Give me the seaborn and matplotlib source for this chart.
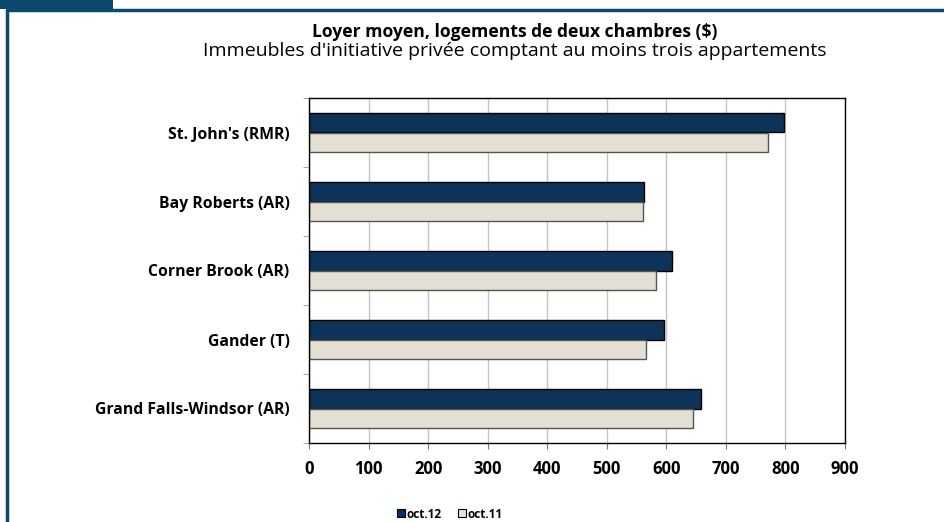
import pandas as pd
import seaborn as sns
import matplotlib.pyplot as plt
from matplotlib.patches import Rectangle
from matplotlib.lines import Line2D

# data
centres = ["St. John's (RMR)", "Bay Roberts (AR)", "Corner Brook (AR)",
           "Gander (T)", "Grand Falls-Windsor (AR)"]
oct12 = [797, 562, 610, 596, 658]
oct11 = [770, 560, 583, 566, 645]
periods = ["oct.12", "oct.11"]
xticks = [0, 100, 200, 300, 400, 500, 600, 700, 800, 900]

df = pd.DataFrame({
    "centre": centres * 2,
    "loyer": oct12 + oct11,
    "periode": [periods[0]] * len(centres) + [periods[1]] * len(centres),
})

sns.set_style("white")
plt.rcParams["font.family"] = ["Open Sans", "DejaVu Sans"]
plt.rcParams["text.color"] = "black"
plt.rcParams["xtick.color"] = "black"
plt.rcParams["ytick.color"] = "black"

dark = "#003366"
light = "#e6e1cf"
frame_col = "#0b4a6e"

fig = plt.figure(figsize=(9.45, 5.22), dpi=100)
ax = fig.add_axes([309 / 945, 1 - 443 / 522, 536 / 945, 345 / 522])

sns.barplot(data=df, y="centre", x="loyer", hue="periode", orient="h",
            palette=[dark, light], width=0.57, gap=0, ax=ax, legend=False,
            edgecolor="black", linewidth=1.0)
for p in ax.patches:
    if p.get_facecolor()[0] > 0.5:
        p.set_edgecolor("#555555")

ax.set_xlim(0, 900)
ax.set_ylim(4.5, -0.5)
ax.set_xticks(xticks)
ax.set_xticklabels([str(v) for v in xticks], fontsize=12, fontweight="bold")
ax.set_yticks(range(len(centres)))
ax.set_yticklabels(centres, fontsize=11.3, fontweight="bold")
ax.tick_params(axis="y", length=0, pad=14)
ax.tick_params(axis="x", length=4, direction="out", bottom=True, pad=8,
               color="#777777")
ax.set_yticks([i + 0.5 for i in range(-1, len(centres))], minor=True)
ax.tick_params(axis="y", which="minor", length=4, left=True, color="#999999")
ax.set_xlabel("")
ax.set_ylabel("")
ax.grid(axis="x", color="#c4c4c4", linewidth=1)
ax.set_axisbelow(True)
for s in ax.spines.values():
    s.set_visible(True)
    s.set_color("black")
    s.set_linewidth(1.0)

# titles
fig.text(515 / 945, 1 - 32 / 522, "Loyer moyen, logements de deux chambres ($)",
         ha="center", va="center", fontsize=12.6, fontweight="bold")
fig.text(515 / 945, 1 - 51 / 522,
         "Immeubles d'initiative privée comptant au moins trois appartements",
         ha="center", va="center", fontsize=14)

# legend
handles = [Line2D([], [], marker="s", linestyle="", markersize=6,
                  markerfacecolor=c, markeredgecolor="black", markeredgewidth=0.8)
           for c in [dark, light]]
fig.legend(handles, periods, loc="center", bbox_to_anchor=(449 / 945, 1 - 514 / 522),
           ncol=2, frameon=False, handletextpad=0.0, columnspacing=1.2,
           handlelength=1.0, prop={"size": 8.5, "weight": "bold"})

# page frame
fig.add_artist(Rectangle((0, 1 - 9 / 522), 113 / 945, 9 / 522,
                         transform=fig.transFigure, color=frame_col, lw=0))
fig.add_artist(Line2D([7 / 945, 1], [1 - 10 / 522, 1 - 10 / 522],
                      transform=fig.transFigure, color=frame_col, lw=2.5))
fig.add_artist(Line2D([7 / 945, 7 / 945], [0, 1 - 10 / 522],
                      transform=fig.transFigure, color=frame_col, lw=2.5))

fig.savefig("out.png", dpi=100)
